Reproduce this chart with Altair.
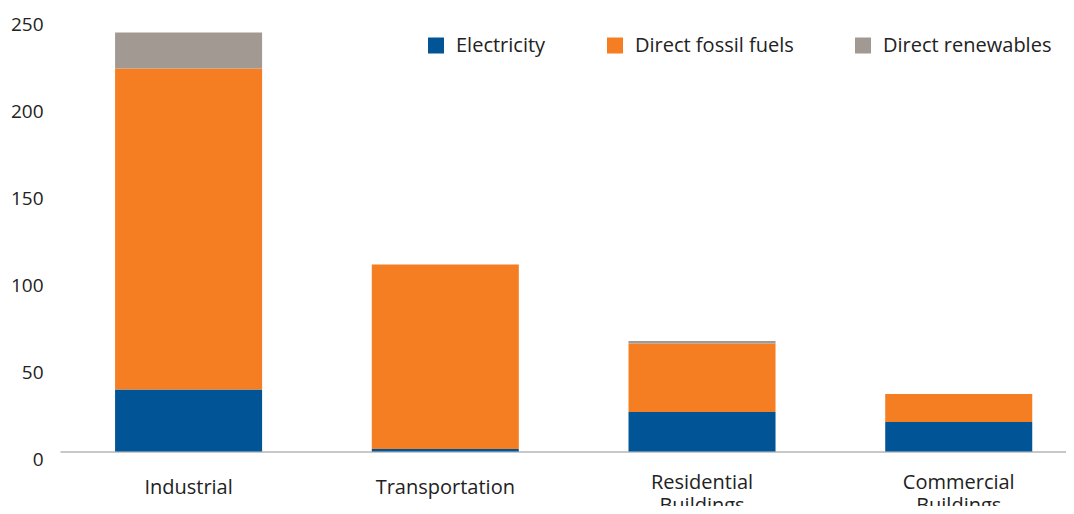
import altair as alt
import pandas as pd

categories = ["Industrial", "Transportation", "Residential Buildings", "Commercial Buildings"]
series = ["Electricity", "Direct fossil fuels", "Direct renewables"]
electricity = [35.6, 1.5, 22.7, 17.0]
fossil = [184.5, 106.0, 39.3, 16.0]
renewables = [20.7, 0.0, 1.5, 0.0]
colors = ["#015597", "#F47E21", "#A29993"]

rows = []
for i, c in enumerate(categories):
    for j, (s, vals) in enumerate(zip(series, [electricity, fossil, renewables])):
        rows.append({"category": c, "source": s, "value": vals[i], "order": j})
df = pd.DataFrame(rows)

chart = alt.Chart(df).mark_bar().encode(
    x=alt.X("category:N", sort=categories,
            scale=alt.Scale(paddingInner=0.4273, paddingOuter=0.173, align=0.62),
            axis=alt.Axis(title=None, labelAngle=0, ticks=False,
                          labelExpr="split(datum.label, ' ')",
                          labelFont="Open Sans", labelFontSize=20, labelColor="#222222",
                          labelLineHeight=23,
                          labelPadding={"condition": {"test": "indexof(datum.value, ' ') < 0", "value": 26}, "value": 21},
                          domainColor="#C8C8C8", domainWidth=2, grid=False)),
    y=alt.Y("value:Q", stack="zero",
            scale=alt.Scale(domain=[0, 250], nice=False),
            axis=alt.Axis(title=None, values=[0, 50, 100, 150, 200, 250], grid=False,
                          domain=False, ticks=False, labelFont="Open Sans",
                          labelFontSize=19, labelColor="#222222", labelPadding=17,
                          labelOffset=7.5)),
    color=alt.Color("source:N",
                    scale=alt.Scale(domain=series, range=colors),
                    legend=alt.Legend(title=None, orient="none", direction="horizontal",
                                      legendX=366, legendY=19, symbolType="square",
                                      symbolSize=256, symbolStrokeWidth=0,
                                      labelFont="Open Sans", labelFontSize=20,
                                      labelColor="#222222", labelOffset=10,
                                      labelLimit=400,
                                      columnPadding=59, padding=0)),
    order=alt.Order("order:Q"),
).properties(
    width=1006, height=435,
    autosize=alt.AutoSizeParams(type="none"),
    padding={"left": 52, "top": 8.5, "right": 0, "bottom": 54},
).configure_view(stroke=None)

chart.save("out.html", embed_options={"renderer": "svg", "actions": False})
